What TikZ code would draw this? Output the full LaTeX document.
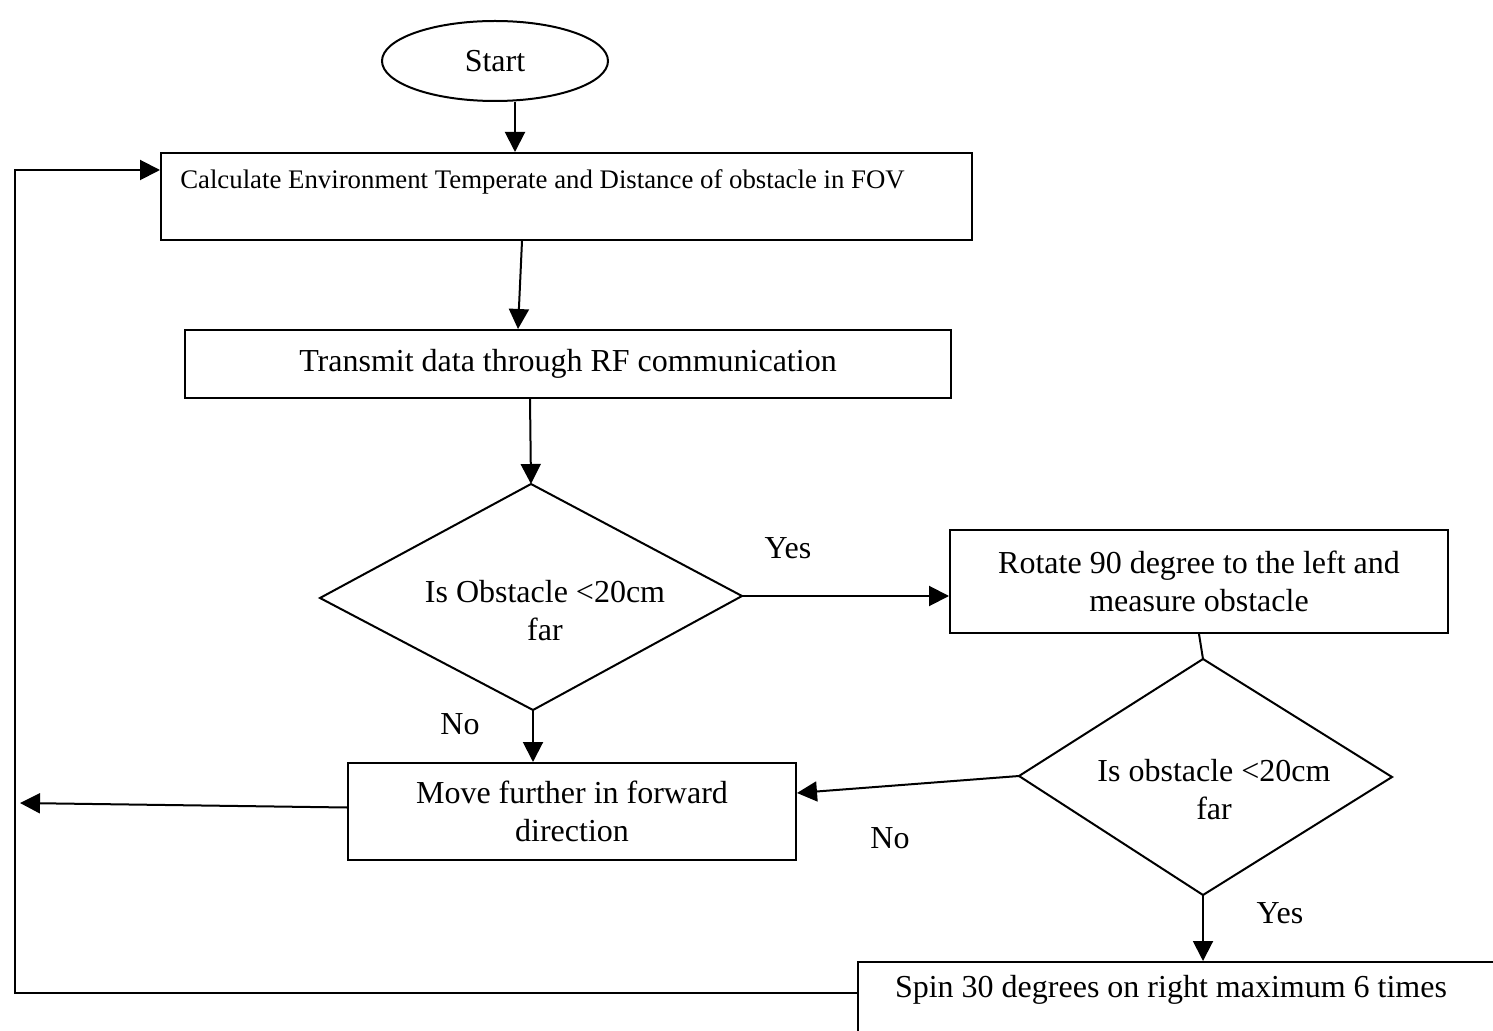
\documentclass[tikz,border=0pt]{standalone}
\usepackage{fontspec}
\setmainfont{Liberation Serif}
\usetikzlibrary{arrows.meta,shapes.geometric,calc}
\begin{document}
\begin{tikzpicture}[x=0.5pt,y=-0.5pt, line width=1pt,
  box/.style={draw, rectangle, inner sep=0pt, align=center, font=\fontsize{16}{19}\selectfont},
  txt/.style={inner sep=0pt, align=center, font=\fontsize{16}{19}\selectfont},
  small/.style={inner sep=0pt, font=\fontsize{13.4}{16}\selectfont},
  arr/.style={-{Triangle[length=10pt,width=10pt]}},
  ]
\useasboundingbox (0,0) rectangle (1493,1031);
\clip (0,0) rectangle (1493,1031);
% nodes
\node[draw, ellipse, minimum width=113pt, minimum height=40pt, inner sep=0pt, font=\fontsize{16}{19}\selectfont] (start) at (495,61) {Start};
\node[box, minimum width=405.5pt, minimum height=43.5pt] (box1) at (566.5,196.5) {};
\node[small] (box1t) at (542.5,182) {Calculate Environment Temperate and Distance of obstacle in FOV};
\node[box, minimum width=383pt, minimum height=34pt] (box2) at (568,364) {Transmit data through RF communication};
\node[box, minimum width=249pt, minimum height=51.5pt] (box3) at (1199,581.5) {Rotate 90 degree to the left and\\measure obstacle};
\node[box, minimum width=224pt, minimum height=48.5pt] (box4) at (572,811.5) {Move further in forward\\direction};
\node[box, minimum width=326pt, minimum height=44pt] (box5) at (1184,1006) {};
\node[txt] (box5t) at (1171,990) {Spin 30 degrees on right maximum 6 times};
% diamond 1
\coordinate (d1t) at (531,484);
\coordinate (d1r) at (742,596);
\coordinate (d1b) at (533,710);
\coordinate (d1l) at (320,598);
\draw (d1t) -- (d1r) -- (d1b) -- (d1l) -- cycle;
\node[txt] (d1text) at (545,611) {Is Obstacle <20cm\\far};
% diamond 2
\coordinate (d2t) at (1203,659);
\coordinate (d2r) at (1392,777);
\coordinate (d2b) at (1203,895);
\coordinate (d2l) at (1019,776);
\draw (d2t) -- (d2r) -- (d2b) -- (d2l) -- cycle;
\node[txt] (d2text) at (1214,790) {Is obstacle <20cm\\far};
% labels
\node[txt] (yes1) at (788,548) {Yes};
\node[txt] (no1) at (460,724) {No};
\node[txt] (no2) at (890,838) {No};
\node[txt] (yes2) at (1280,913) {Yes};
% connectors
\draw[arr] ([xshift=10pt]start.south) -- ([xshift=10pt]start.south |- box1.north);
\draw[arr] ([xshift=-22.25pt]box1.south) -- ([xshift=-25pt]box2.north);
\draw[arr] ([xshift=-19pt]box2.south) -- (d1t);
\draw[arr] (d1r) -- (d1r -| box3.west);
\draw (box3.south) -- (d2t);
\draw[arr] (d2l) -- ([yshift=9.25pt]box4.east);
\draw[arr] (d1b) -- (d1b |- box4.north);
\coordinate (leftend) at (20,803);
\draw[arr] ([yshift=2pt]box4.west) -- (leftend);
\draw[arr] (d2b) -- (d2b |- box5.north);
\coordinate (c1) at (15,993);
\coordinate (c2) at (15,170);
\draw[arr] (box5.west |- c1) -- (c1) -- (c2) -- (c2 -| box1.west);
\end{tikzpicture}
\end{document}
